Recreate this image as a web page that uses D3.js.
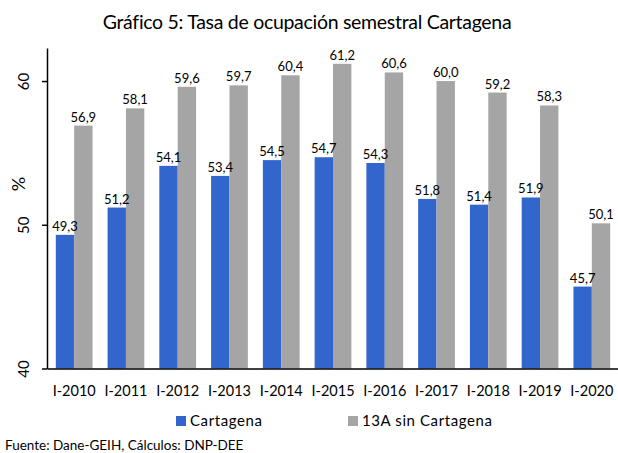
<!DOCTYPE html>
<html>
<head>
<meta charset="utf-8">
<script src="https://cdn.jsdelivr.net/npm/d3@7"></script>
<style>
  body { margin: 0; background: #fff; }
  text { font-family: Lato, "Open Sans", sans-serif; fill: #000; }
</style>
</head>
<body>
<div id="grafica"></div>
<script>
var periodos = ['I-2010','I-2011','I-2012','I-2013','I-2014','I-2015','I-2016','I-2017','I-2018','I-2019','I-2020'];
var cartagena = [49.3, 51.2, 54.1, 53.4, 54.5, 54.7, 54.3, 51.8, 51.4, 51.9, 45.7];
var sinCartagena = [56.9, 58.1, 59.6, 59.7, 60.4, 61.2, 60.6, 60.0, 59.2, 58.3, 50.1];
var series = ['Cartagena', '13A sin Cartagena'];
var yTicks = [40, 50, 60];

var width = 618, height = 453;
var colores = ['#3366cc', '#a5a5a5'];

var svg = d3.select('#grafica').append('svg')
  .attr('width', width)
  .attr('height', height);

// titulo
svg.append('text')
  .attr('x', 307).attr('y', 29)
  .attr('text-anchor', 'middle')
  .style('font-size', '19.5px')
  .style('font-weight', 400)
  .style('letter-spacing', '-0.3px')
  .text('Gráfico 5: Tasa de ocupación semestral Cartagena');

var x = d3.scaleBand()
  .domain(periodos)
  .range([47, 619])
  .paddingInner(0.29)
  .paddingOuter(0.17);

var xSub = d3.scaleBand()
  .domain(series)
  .range([0, x.bandwidth()]);

var y = d3.scaleLinear()
  .domain([40, 62.3])
  .range([368.5, 48]);

var filas = periodos.map(function(p, i) {
  return { periodo: p, valores: [cartagena[i], sinCartagena[i]] };
});

var grupos = svg.selectAll('g.grupo')
  .data(filas)
  .enter().append('g')
  .attr('class', 'grupo')
  .attr('transform', function(d) { return 'translate(' + x(d.periodo) + ',0)'; });

grupos.selectAll('rect')
  .data(function(d) { return d.valores.map(function(v, j) { return { serie: series[j], valor: v, j: j }; }); })
  .enter().append('rect')
  .attr('x', function(d) { return xSub(d.serie); })
  .attr('y', function(d) { return y(d.valor); })
  .attr('width', xSub.bandwidth())
  .attr('height', function(d) { return y(40) - y(d.valor); })
  .attr('fill', function(d) { return colores[d.j]; });

grupos.selectAll('text.etiqueta')
  .data(function(d) { return d.valores.map(function(v, j) { return { serie: series[j], valor: v }; }); })
  .enter().append('text')
  .attr('class', 'etiqueta')
  .attr('x', function(d) { return xSub(d.serie) + xSub.bandwidth() / 2; })
  .attr('y', function(d) { return y(d.valor) - 4; })
  .attr('text-anchor', 'middle')
  .style('font-size', '13px')
  .text(function(d) { return d.valor.toFixed(1).replace('.', ','); });

// eje y
var ejeY = svg.append('g')
  .attr('transform', 'translate(47,0)')
  .call(d3.axisLeft(y).tickValues(yTicks).tickSize(5).tickSizeOuter(0).tickFormat(d3.format('d')));
ejeY.select('.domain').attr('stroke', '#000').attr('stroke-width', 1.5);
ejeY.selectAll('.tick line').attr('stroke', '#000').attr('stroke-width', 1.5);
ejeY.selectAll('.tick text')
  .attr('x', 0).attr('dy', 0)
  .attr('transform', 'translate(-18,0) rotate(-90)')
  .attr('text-anchor', 'middle')
  .style('font-size', '15px')
  .style('font-family', 'Lato, sans-serif');

// eje x
var ejeX = svg.append('g')
  .attr('transform', 'translate(0,' + y(40) + ')')
  .call(d3.axisBottom(x).tickSize(0).tickSizeOuter(0).tickPadding(17));
ejeX.select('.domain').attr('stroke', '#000').attr('stroke-width', 1.5);
ejeX.selectAll('.tick text')
  .style('font-size', '14.5px')
  .style('font-family', 'Lato, sans-serif');

svg.append('text')
  .attr('transform', 'translate(25,184) rotate(-90)')
  .attr('text-anchor', 'middle')
  .style('font-size', '18px')
  .text('%');

// leyenda
var leyenda = svg.selectAll('g.leyenda')
  .data(series)
  .enter().append('g')
  .attr('class', 'leyenda')
  .attr('transform', function(d, i) { return 'translate(' + [176, 348][i] + ',416)'; });
leyenda.append('rect')
  .attr('width', 10).attr('height', 10)
  .attr('fill', function(d, i) { return colores[i]; });
leyenda.append('text')
  .attr('x', 14).attr('y', 10)
  .style('font-size', '15px')
  .style('letter-spacing', '0.6px')
  .text(function(d) { return d; });

svg.append('text')
  .attr('x', 5).attr('y', 450)
  .style('font-size', '13.5px')
  .text('Fuente: Dane-GEIH, Cálculos: DNP-DEE');
</script>
</body>
</html>
